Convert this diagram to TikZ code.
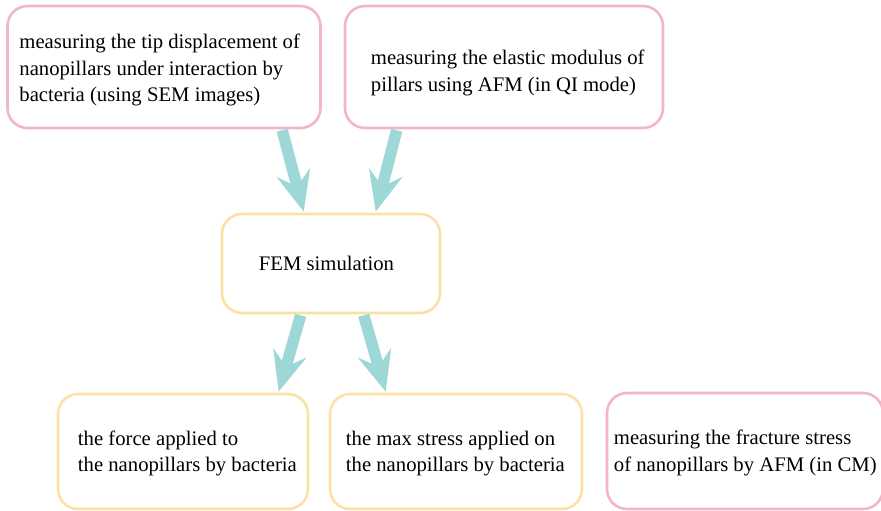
\documentclass[tikz,border=0pt]{standalone}
\usepackage{fontspec}
\setmainfont{Liberation Serif}
\usetikzlibrary{arrows.meta,calc}
\definecolor{pinkb}{HTML}{F2B5CA}
\definecolor{yellb}{HTML}{FBE2A4}
\definecolor{teal1}{HTML}{9DD8D6}
\begin{document}
\begin{tikzpicture}[x=1pt,y=-1pt,
  box/.style={draw, line width=2.6pt, rounded corners=20pt, fill=white, inner sep=0pt},
  pbox/.style={box, draw=pinkb},
  ybox/.style={box, draw=yellb},
  txt/.style={inner sep=0pt, font=\fontsize{20.7}{26.5}\selectfont, align=left, anchor=west},
  bigarrow/.style={draw=teal1, line width=11.5pt,
    -{Stealth[length=40pt,width=34pt,inset=14pt]}}]
\useasboundingbox (0,0) rectangle (881,511);
\node[pbox, minimum width=313pt, minimum height=122pt] (b1) at (164,67) {};
\node[pbox, minimum width=318pt, minimum height=122pt] (b2) at (504,67) {};
\node[ybox, minimum width=218pt, minimum height=99pt] (fem) at (331,263.5) {};
\node[ybox, minimum width=250pt, minimum height=115pt] (r1) at (183,451.5) {};
\node[ybox, minimum width=252pt, minimum height=115pt] (r2) at (456,451.5) {};
\node[pbox, minimum width=276pt, minimum height=116pt] (r3) at (745,451) {};
\node[txt] (t1) at ($(b1.west)+(13,3)$)
  {measuring the tip displacement of\\nanopillars under interaction by\\bacteria (using SEM images)};
\node[txt] (t2) at ($(b2.west)+(27,6)$)
  {measuring the elastic modulus of\\pillars using AFM (in QI mode)};
\node[txt] (t3) at ($(fem.west)+(38,0)$) {FEM simulation};
\node[txt] (t4) at ($(r1.west)+(21,2)$)
  {the force applied to\\the nanopillars by bacteria};
\node[txt] (t5) at ($(r2.west)+(17,2)$)
  {the max stress applied on\\the nanopillars by bacteria};
\node[txt] (t6) at ($(r3.west)+(8,2)$)
  {measuring the fracture stress\\of nanopillars by AFM (in CM)};
\draw[bigarrow] ($(b1.south west)+(276,1)$) -- ($(fem.north west)+(83,-1)$);
\draw[bigarrow] ($(b2.south west)+(53,1)$) -- ($(fem.north west)+(155,-1)$);
\draw[bigarrow] ($(fem.south west)+(80,1)$) -- ($(r1.north west)+(222,-1)$);
\draw[bigarrow] ($(fem.south west)+(143,1)$) -- ($(r2.north west)+(57,-1)$);
\end{tikzpicture}
\end{document}
